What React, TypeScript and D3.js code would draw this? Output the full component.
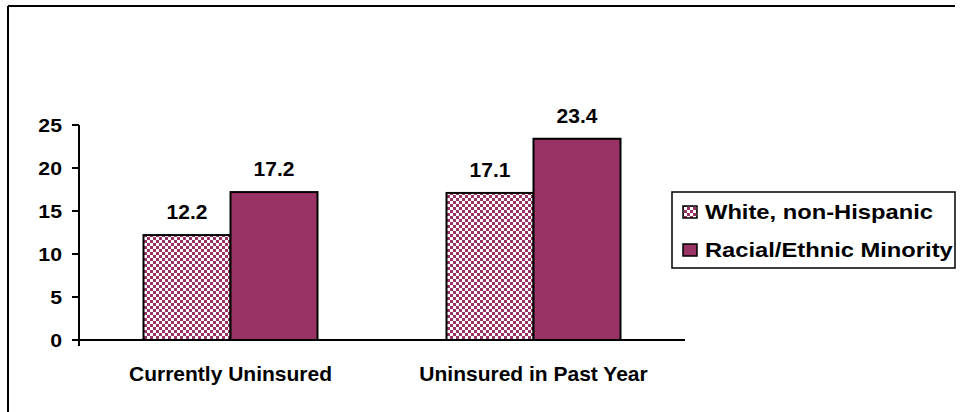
import React from "react";
import * as d3 from "d3";

const categories = ["Currently Uninsured", "Uninsured in Past Year"];
const seriesNames = ["White, non-Hispanic", "Racial/Ethnic Minority"];
const whiteValues = [12.2, 17.1];
const minorityValues = [17.2, 23.4];
const yTicks = [0, 5, 10, 15, 20, 25];

const W = 965;
const H = 412;
const COLOR = "#993366";
const FONT = "'Liberation Sans', Arial, sans-serif";

function SText(props: { x: number; y: number; size: number; sx?: number; anchor?: string; children: React.ReactNode }) {
  const { x, y, size, sx = 1, anchor = "start", children } = props;
  return (
    <text
      transform={`translate(${x},${y}) scale(${sx},1)`}
      textAnchor={anchor}
      fontFamily={FONT}
      fontWeight="bold"
      fontSize={size}
    >
      {children}
    </text>
  );
}

export default function App() {
  const x0 = d3.scaleBand<string>().domain(categories).range([79, 685]).paddingInner(0).paddingOuter(0);
  const y = d3.scaleLinear().domain([0, 25]).range([340, 125]);
  const groupW = 174;
  const x1 = d3.scaleBand<number>().domain([0, 1]).range([0, groupW]);
  const series = [whiteValues, minorityValues];

  return (
    <svg width={W} height={H} style={{ position: "absolute", left: 0, top: 0, background: "#fff" }}>
      <defs>
        <pattern id="checker" width={6} height={6} patternUnits="userSpaceOnUse">
          <rect width={6} height={6} fill="#fff" />
          <rect x={0} y={0} width={3} height={3} fill={COLOR} />
          <rect x={3} y={3} width={3} height={3} fill={COLOR} />
        </pattern>
      </defs>
      <rect width={W} height={H} fill="#fff" />
      {/* frame */}
      <line x1={8} y1={6} x2={955} y2={6} stroke="#000" strokeWidth={2} />
      <line x1={8} y1={6} x2={8} y2={H} stroke="#000" strokeWidth={2} />

      {/* bars */}
      {categories.map((c, ci) => {
        const gx = (x0(c) as number) + (x0.bandwidth() - groupW) / 2;
        return (
          <g key={c}>
            {series.map((vals, si) => {
              const bx = gx + (x1(si) as number);
              const by = y(vals[ci]);
              return (
                <g key={si}>
                  <rect
                    x={bx}
                    y={by}
                    width={x1.bandwidth()}
                    height={y(0) - by}
                    fill={si === 0 ? "url(#checker)" : COLOR}
                    stroke="#000"
                    strokeWidth={2}
                  />
                  <SText x={bx + x1.bandwidth() / 2} y={by - 16} size={21} anchor="middle">
                    {vals[ci].toFixed(1)}
                  </SText>
                </g>
              );
            })}
            <SText x={(x0(c) as number) + x0.bandwidth() / 2} y={381} size={21} anchor="middle">
              {c}
            </SText>
          </g>
        );
      })}

      {/* y axis */}
      <line x1={79} y1={y(25)} x2={79} y2={y(0) + 6} stroke="#000" strokeWidth={2} />
      {yTicks.map((t) => (
        <g key={t}>
          <line x1={72} y1={y(t)} x2={79} y2={y(t)} stroke="#000" strokeWidth={2} />
          <SText x={62} y={y(t) + 7} size={19} sx={1.12} anchor="end">
            {t}
          </SText>
        </g>
      ))}
      {/* x axis */}
      <line x1={79} y1={y(0)} x2={685} y2={y(0)} stroke="#000" strokeWidth={2} />

      {/* legend */}
      <rect x={672} y={192} width={283} height={76} fill="#fff" stroke="#000" strokeWidth={1.5} />
      {seriesNames.map((n, i) => (
        <g key={n}>
          <rect
            x={683}
            y={206 + i * 38}
            width={14}
            height={12}
            fill={i === 0 ? "url(#checker)" : COLOR}
            stroke="#000"
            strokeWidth={1.5}
          />
          <SText x={705} y={219 + i * 38} size={21} sx={1.13}>
            {n}
          </SText>
        </g>
      ))}
    </svg>
  );
}
